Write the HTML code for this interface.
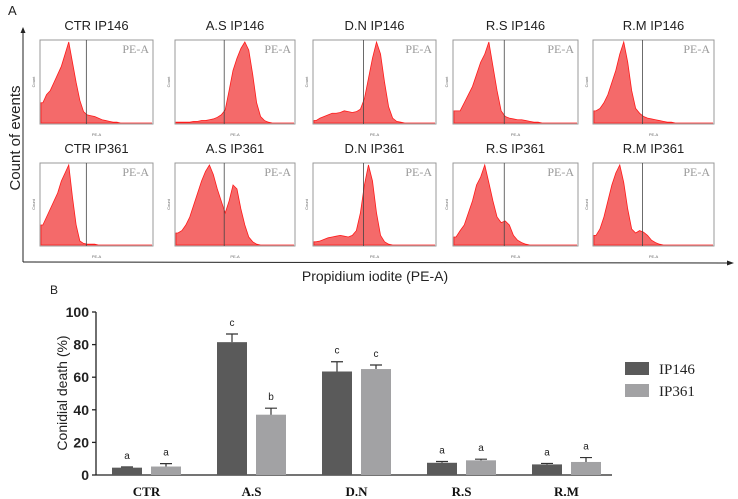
<!DOCTYPE html>
<html><head><meta charset="utf-8"><style>
body{margin:0;background:#fff;}
svg{display:block;font-family:"Liberation Sans",sans-serif;}
</style></head><body>
<svg id="fig" width="738" height="499" viewBox="0 0 738 499">
<text x="8" y="15" font-size="13" fill="#222">A</text>
<line x1="23" y1="262" x2="23" y2="32" stroke="#222" stroke-width="1"/>
<polygon points="23,27 20.5,33 25.5,33" fill="#222"/>
<line x1="23" y1="262" x2="728" y2="263" stroke="#222" stroke-width="1"/>
<polygon points="734,263 727,260.5 727,265.5" fill="#222"/>
<text transform="translate(20,138) rotate(-90)" text-anchor="middle" font-size="15" fill="#222">Count of events</text>
<text x="375" y="281" text-anchor="middle" font-size="14" fill="#222">Propidium iodite (PE-A)</text>
<g id="hists"></g>
<text x="50" y="294" font-size="12" fill="#222">B</text>
<g id="bars"></g>
</svg>
<script>
const histTitles=["CTR IP146","A.S IP146","D.N IP146","R.S IP146","R.M IP146","CTR IP361","A.S IP361","D.N IP361","R.S IP361","R.M IP361"];
const histCTR146=[25,35,40,50,60,70,85,100,75,50,28,14,10,9,8,6,4,3,2,1,1,0,0,0,0,0,0,0,0,0];
const histAS146=[1,1,1,1,2,2,3,3,4,5,7,10,16,40,65,80,92,100,90,60,25,8,3,1,0,0,0,0,0,0];
const histDN146=[3,6,8,10,12,12,13,15,14,13,14,17,30,55,80,100,85,50,20,6,2,1,0,0,0,0,0,0,0,0];
const histRS146=[15,15,25,35,45,60,75,85,100,70,40,15,8,6,5,4,4,3,2,1,1,0,0,0,0,0,0,0,0,0];
const histRM146=[15,18,25,35,50,65,85,100,75,40,18,12,8,6,5,4,3,2,1,1,0,0,0,0,0,0,0,0,0,0];
const histCTR361=[25,35,45,55,65,80,90,100,60,25,5,2,1,1,1,0,0,0,0,0,0,0,0,0,0,0,0,0,0,0];
const histAS361=[15,18,25,35,50,65,80,92,100,88,70,55,40,55,75,70,45,25,10,4,1,0,0,0,0,0,0,0,0,0];
const histDN361=[4,5,7,9,10,11,12,11,10,12,18,40,75,100,80,40,12,4,1,0,0,0,0,0,0,0,0,0,0,0];
const histRS361=[10,18,25,40,55,75,85,100,78,55,35,28,30,25,12,6,3,1,0,0,0,0,0,0,0,0,0,0,0,0];
const histRM361=[12,20,35,55,75,90,100,78,45,20,15,18,16,12,6,3,1,0,0,0,0,0,0,0,0,0,0,0,0,0];
const histData=[histCTR146,histAS146,histDN146,histRS146,histRM146,histCTR361,histAS361,histDN361,histRS361,histRM361];

const categories=["CTR","A.S","D.N","R.S","R.M"];
const seriesNames=["IP146","IP361"];
const ip146=[4.5,81.5,63.5,7.5,6.5];
const ip361=[5.2,37,65,9,8];
const ip146Err=[0.4,5,6,0.8,0.6];
const ip361Err=[1.8,4,2.5,0.7,2.7];
const ip146Letters=["a","c","c","a","a"];
const ip361Letters=["a","b","c","a","a"];
const yTicks=[0,20,40,60,80,100];

const NS="http://www.w3.org/2000/svg";
function mk(tag,attrs,parent){const e=document.createElementNS(NS,tag);for(const k in attrs)e.setAttribute(k,attrs[k]);parent.appendChild(e);return e;}

const hg=document.getElementById('hists');
const boxX=[[40,153],[175,295],[313,436],[453,578],[593,714]];
const boxY=[[40,124],[163,246]];
histData.forEach((d,i)=>{
  const col=i%5,row=Math.floor(i/5);
  const x0=boxX[col][0],x1=boxX[col][1],y0=boxY[row][0],y1=boxY[row][1];
  const g=mk('g',{},hg);
  
  
  const t=mk('text',{x:(x0+x1)/2,y:y0-10,'text-anchor':'middle','font-size':13,fill:'#222'},g);t.textContent=histTitles[i];
  
  
  const r=mk('rect',{x:x0,y:y0,width:x1-x0,height:y1-y0,fill:'#fff',stroke:'#999','stroke-width':1},g);
  
  
  const w=(x1-x0-2)/d.length;const H=y1-y0-3;
  const sx=k=>x0+1+(k+0.5)*w, sy=v=>y1-1-v/100*H;
  let p='M'+(x0+1)+','+(y1-1)+' L'+(x0+1)+','+sy(d[0]);
  d.forEach((v,k)=>{p+=' L'+sx(k)+','+sy(v);});
  p+=' L'+(x1-1)+','+(y1-1)+' Z';
  const pa=mk('path',{d:p,fill:'#f46a6a',stroke:'#ff1a1a','stroke-width':0.8},g);
  
  
  const gx=x0+(x1-x0)*0.41;
  const gl=mk('line',{x1:gx,y1:y0,x2:gx,y2:y1,stroke:'#444','stroke-width':0.8},g);
  
  
  const pe=mk('text',{x:x1-4,y:y0+13,'text-anchor':'end','font-size':12,fill:'#999','font-family':'Liberation Serif,serif'},g);pe.textContent='PE-A';
  
  
  const xl=mk('text',{x:(x0+x1)/2,y:y1+12,'text-anchor':'middle','font-size':4,fill:'#666'},g);xl.textContent='PE-A';
  
  
  const yl=mk('text',{transform:'translate('+(x0-5)+','+((y0+y1)/2)+') rotate(-90)','text-anchor':'middle','font-size':4,fill:'#666'},g);yl.textContent='Count';
  
  
});

const bg=document.getElementById('bars');
const ax0=96,ax1=612,yZero=475,yTop=312;
const yScale=v=>yZero-(v/100)*(yZero-yTop);
const groupX=i=>112+i*105;
const bw=30;
const ya=mk('line',{x1:ax0,y1:yTop,x2:ax0,y2:yZero,stroke:'#222','stroke-width':1.3},bg);


const xa=mk('line',{x1:ax0,y1:yZero,x2:ax1,y2:yZero,stroke:'#222','stroke-width':1.3},bg);


yTicks.forEach(v=>{
  const tk=mk('line',{x1:ax0-4,y1:yScale(v),x2:ax0,y2:yScale(v),stroke:'#222','stroke-width':1.3},bg);
  
  
  const tl=mk('text',{x:ax0-7,y:yScale(v)+5,'text-anchor':'end','font-size':14,'font-weight':'bold',fill:'#222'},bg);tl.textContent=v;
  
  
});
const yt=mk('text',{transform:'translate(67,393) rotate(-90)','text-anchor':'middle','font-size':14,fill:'#222'},bg);yt.textContent='Conidial death (%)';


function drawBar(x,v,e,l,color,name){
  const r=mk('rect',{x:x,y:yScale(v),width:bw,height:yZero-yScale(v),fill:color},bg);
  
  
  const cx=x+bw/2;
  const el=mk('path',{d:'M'+cx+','+yScale(v)+' V'+yScale(v+e)+' M'+(cx-6)+','+yScale(v+e)+' H'+(cx+6),stroke:'#333','stroke-width':1.2,fill:'none'},bg);
  
  
  const lt=mk('text',{x:cx,y:yScale(v+e)-8,'text-anchor':'middle','font-size':10,fill:'#222'},bg);lt.textContent=l;
  
  
}
categories.forEach((c,i)=>{
  const gx=groupX(i);
  drawBar(gx,ip146[i],ip146Err[i],ip146Letters[i],'#5a5a5a','bar-ip146-'+c.toLowerCase().replace('.',''));
  drawBar(gx+39,ip361[i],ip361Err[i],ip361Letters[i],'#a2a2a4','bar-ip361-'+c.toLowerCase().replace('.',''));
  const cl=mk('text',{x:gx+34.5,y:496,'text-anchor':'middle','font-size':13,'font-weight':'bold',fill:'#111','font-family':'Liberation Serif,serif'},bg);cl.textContent=c;
  
  
});
const legColors=['#5a5a5a','#a2a2a4'];
seriesNames.forEach((s,i)=>{
  const y=362+i*22;
  const lr=mk('rect',{x:625,y:y,width:24,height:13,fill:legColors[i]},bg);
  
  
  const lt=mk('text',{x:659,y:y+12,'font-size':15,fill:'#222','font-family':'Liberation Serif,serif'},bg);lt.textContent=s;
  
  
});
</script>
</body></html>
